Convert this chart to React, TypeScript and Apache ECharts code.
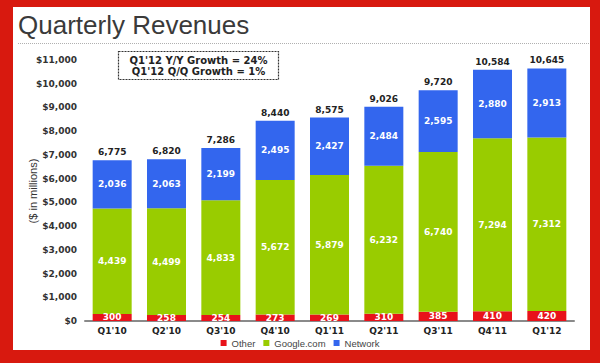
import { useEffect, useRef } from "react";
import * as echarts from "echarts";

const categories = ["Q1'10", "Q2'10", "Q3'10", "Q4'10", "Q1'11", "Q2'11", "Q3'11", "Q4'11", "Q1'12"];
const other = [300, 258, 254, 273, 269, 310, 385, 410, 420];
const google = [4439, 4499, 4833, 5672, 5879, 6232, 6740, 7294, 7312];
const network = [2036, 2063, 2199, 2495, 2427, 2484, 2595, 2880, 2913];
const totals = [6775, 6820, 7286, 8440, 8575, 9026, 9720, 10584, 10645];
const yMin = 0;
const yMax = 11000;
const yInterval = 1000;
const titleText = "Quarterly Revenues";
const yAxisName = "($ in millions)";
const noteLines = ["Q1'12 Y/Y Growth = 24%", "Q1'12 Q/Q Growth = 1%"];

const FONT = "'Liberation Sans', Arial, Helvetica, sans-serif";
const WIDE = "'DejaVu Sans', 'Liberation Sans', Arial, sans-serif";
const fmt = (v: number) => v.toLocaleString("en-US");

export default function App() {
  const ref = useRef<HTMLDivElement>(null);
  useEffect(() => {
    if (!ref.current) return;
    const chart = echarts.init(ref.current, null, { renderer: "svg" });
    const inLabel = {
      show: true,
      position: "inside" as const,
      color: "#ffffff",
      fontSize: 9,
      fontWeight: "bold" as const,
      fontFamily: WIDE,
      formatter: (p: any) => fmt(p.value),
    };
    chart.setOption({
      animation: false,
      backgroundColor: "#d8190f",
      textStyle: { fontFamily: FONT },
      graphic: [
        { type: "rect", shape: { x: 13, y: 7, width: 577, height: 343 }, style: { fill: "#ffffff" }, z: -10 },
        {
          type: "text",
          x: 18,
          y: 25,
          style: { text: titleText, fontSize: 26, fontFamily: FONT, fill: "#3a3a3a", verticalAlign: "middle", align: "left" },
        },
        {
          type: "line",
          shape: { x1: 18, y1: 43.5, x2: 590, y2: 43.5 },
          style: { stroke: "#b0b0b0", lineWidth: 1, lineDash: [1, 1] },
        },
        {
          type: "rect",
          shape: { x: 118.5, y: 51.5, width: 160, height: 28 },
          style: { fill: "#ffffff", stroke: "#333333", lineWidth: 1.2, lineDash: [2, 1] },
        },
        {
          type: "text",
          x: 198.5,
          y: 60.5,
          style: { text: noteLines[0], fontSize: 10, fontWeight: "bold", fontFamily: WIDE, fill: "#222", align: "center", verticalAlign: "middle" },
        },
        {
          type: "text",
          x: 198.5,
          y: 71.5,
          style: { text: noteLines[1], fontSize: 10, fontWeight: "bold", fontFamily: WIDE, fill: "#222", align: "center", verticalAlign: "middle" },
        },
        {
          type: "text",
          x: 33,
          y: 191,
          rotation: Math.PI / 2,
          style: { text: yAxisName, fontSize: 11, fontFamily: FONT, fill: "#333", align: "center", verticalAlign: "middle" },
        },
      ],
      legend: {
        data: ["Other", "Google.com", "Network"],
        top: 338,
        left: "center",
        padding: 0,
        icon: "rect",
        itemWidth: 6,
        itemHeight: 6,
        itemGap: 8,
        textStyle: { fontSize: 9.5, color: "#444444", fontFamily: FONT },
      },
      grid: { left: 85, right: 26, top: 60, bottom: 42 },
      xAxis: {
        type: "category",
        data: categories,
        axisLine: { show: true, lineStyle: { color: "#8a8a8a", width: 2 } },
        axisTick: { show: false },
        axisLabel: { fontSize: 9, fontWeight: "bold", color: "#222", margin: 5, fontFamily: WIDE },
      },
      yAxis: {
        type: "value",
        min: yMin,
        max: yMax,
        interval: yInterval,
        axisLine: { show: false },
        axisTick: { show: false },
        splitLine: { show: false },
        axisLabel: {
          fontSize: 9,
          fontWeight: "bold",
          color: "#333",
          margin: 8,
          fontFamily: WIDE,
          formatter: (v: number) => "$" + fmt(v),
        },
      },
      series: [
        { name: "Other", type: "bar", stack: "rev", data: other, barWidth: 39, itemStyle: { color: "#e8121a" }, label: inLabel },
        { name: "Google.com", type: "bar", stack: "rev", data: google, barWidth: 39, itemStyle: { color: "#99cc00" }, label: inLabel },
        { name: "Network", type: "bar", stack: "rev", data: network, barWidth: 39, itemStyle: { color: "#3366ee" }, label: inLabel },
        {
          name: "Total",
          type: "line",
          data: totals,
          symbol: "circle",
          symbolSize: 1,
          itemStyle: { color: "rgba(0,0,0,0)" },
          lineStyle: { opacity: 0, width: 0 },
          silent: true,
          label: {
            show: true,
            position: "top",
            distance: 3,
            color: "#222",
            fontSize: 9,
            fontWeight: "bold",
            fontFamily: WIDE,
            formatter: (p: any) => fmt(p.value),
          },
        },
      ],
    });
    return () => chart.dispose();
  }, []);
  return <div ref={ref} style={{ position: "fixed", left: 0, top: 0, width: 600, height: 363 }} />;
}
